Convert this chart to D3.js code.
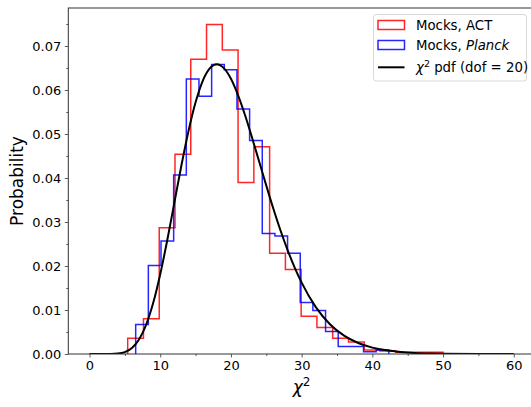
<!DOCTYPE html>
<html>
<head>
<meta charset="utf-8">
<script src="https://cdn.jsdelivr.net/npm/d3@7"></script>
<style>
  html, body { margin: 0; padding: 0; background: #fff; }
  svg { display: block; font-family: "DejaVu Sans", sans-serif; }
</style>
</head>
<body>
<svg id="chart" width="531" height="407"></svg>
<script>
// ---- Data ----
const actEdges = [5.40, 7.63, 9.86, 12.09, 14.32, 16.55, 18.78, 21.01, 23.24, 25.47, 27.70,
                  29.93, 32.16, 34.39, 36.62, 38.85, 41.08, 43.31, 45.54, 47.77, 50.00];
const actValues = [0.0036, 0.0080, 0.0287, 0.0454, 0.0670, 0.0749, 0.0691, 0.0390, 0.0471, 0.0229,
                   0.0192, 0.0086, 0.0060, 0.0036, 0.0027, 0.0009, 0.0007, 0.0004, 0.0004, 0.0004];
const planckEdges = [6.53, 8.32, 10.11, 11.90, 13.69, 15.48, 17.27, 19.06, 20.85, 22.64, 24.43,
                     26.22, 28.01, 29.80, 31.59, 33.38, 35.17, 36.96, 38.75, 40.54, 42.33];
const planckValues = [0.0067, 0.0201, 0.0257, 0.0407, 0.0625, 0.0586, 0.0658, 0.0646, 0.0557, 0.0485,
                      0.0274, 0.0268, 0.0229, 0.0117, 0.0099, 0.0051, 0.0017, 0.0017, 0.0005, 0.0009];
const pdfX = [0, 1, 2, 3, 4, 5, 6, 7, 8, 9, 10, 11, 12, 13, 14, 15, 16, 17, 18, 19, 20, 21, 22, 23, 24,
              25, 26, 27, 28, 29, 30, 32, 34, 36, 38, 40, 42, 44, 46, 48, 50, 55, 60];
const pdfY = [0, 0, 0.0000005, 0.000012, 0.000095, 0.00043, 0.00135, 0.00328, 0.00661, 0.01157,
              0.01813, 0.02592, 0.03440, 0.04290, 0.05070, 0.05720, 0.06204, 0.06490, 0.06587, 0.06497,
              0.06255, 0.05885, 0.05426, 0.04909, 0.04368, 0.03827, 0.03301, 0.02812, 0.02368, 0.01968,
              0.01621, 0.01065, 0.00676, 0.00416, 0.00249, 0.00145, 0.00083, 0.000464, 0.000254,
              0.000137, 0.000073, 0.000015, 0.000003];
const xTicks = [0, 10, 20, 30, 40, 50, 60];
const yTicks = [0, 0.01, 0.02, 0.03, 0.04, 0.05, 0.06, 0.07];
const legendLabels = ["Mocks, ACT", "Mocks, Planck", "χ² pdf (dof = 20)"];

// ---- Layout ----
const svg = d3.select("#chart");
const L = 68.3, R = 535, T = 8, B = 354;
const x = d3.scaleLinear().domain([-3, 63]).range([L, R]);
const y = d3.scaleLinear().domain([0, 346 / 4400]).range([B, T]);

const clip = svg.append("defs").append("clipPath").attr("id", "clip")
  .append("rect").attr("x", L).attr("y", T).attr("width", R - L).attr("height", B - T);

const plot = svg.append("g").attr("clip-path", "url(#clip)");

function stepPoints(edges, vals) {
  const pts = [[edges[0], 0]];
  vals.forEach((v, i) => { pts.push([edges[i], v]); pts.push([edges[i + 1], v]); });
  pts.push([edges[edges.length - 1], 0]);
  return pts;
}
const line = d3.line().x(d => x(d[0])).y(d => y(d[1]));

plot.append("path").attr("d", line(stepPoints(actEdges, actValues)))
  .attr("fill", "none").attr("stroke", "#ff0000").attr("stroke-opacity", 0.85)
  .attr("stroke-width", 1.5).attr("stroke-linejoin", "miter");
plot.append("path").attr("d", line(stepPoints(planckEdges, planckValues)))
  .attr("fill", "none").attr("stroke", "#0000ff").attr("stroke-opacity", 0.85)
  .attr("stroke-width", 1.5).attr("stroke-linejoin", "miter");

const pdfLine = d3.line().x(d => x(d[0])).y(d => y(d[1])).curve(d3.curveMonotoneX);
plot.append("path").attr("d", pdfLine(pdfX.map((v, i) => [v, pdfY[i]])))
  .attr("fill", "none").attr("stroke", "#000").attr("stroke-width", 2);

// ---- Axes ----
const xAxis = d3.axisBottom(x).tickValues(xTicks).tickSize(3.5).tickPadding(3.5).tickFormat(d3.format("d"));
const xMinor = d3.axisBottom(x).tickValues([5, 15, 25, 35, 45, 55]).tickSize(2).tickFormat("");
const yAxis = d3.axisLeft(y).tickValues(yTicks).tickSize(3.5).tickPadding(3.5).tickFormat(d3.format(".2f"));
const yMinor = d3.axisLeft(y).tickValues(d3.range(0.005, 0.08, 0.01)).tickSize(2).tickFormat("");

function style(g) {
  g.select(".domain").remove();
  g.selectAll("line").attr("stroke", "#333").attr("stroke-width", 0.8);
  g.selectAll("text").attr("fill", "#000").style("font-size", "13px").style("font-family", "DejaVu Sans");
}
svg.append("g").attr("transform", `translate(0,${B})`).call(xAxis).call(style);
svg.append("g").attr("transform", `translate(0,${B})`).call(xMinor).call(style);
svg.append("g").attr("transform", `translate(${L},0)`).call(yAxis).call(style);
svg.append("g").attr("transform", `translate(${L},0)`).call(yMinor).call(style);

// frame
svg.append("rect").attr("x", L).attr("y", T).attr("width", R - L).attr("height", B - T)
  .attr("fill", "none").attr("stroke", "#333").attr("stroke-width", 1);

// axis labels
const xl = svg.append("text").attr("x", x(30)).attr("y", 393).attr("text-anchor", "middle")
  .style("font-size", "17px").attr("fill", "#000");
xl.append("tspan").style("font-style", "italic").text("χ");
xl.append("tspan").attr("dy", -7).style("font-size", "12px").text("2");

svg.append("text").attr("transform", `translate(23,${(T + B) / 2}) rotate(-90)`)
  .attr("text-anchor", "middle").style("font-size", "17px").attr("fill", "#000").text("Probability");

// ---- Legend ----
const lg = svg.append("g");
lg.append("rect").attr("x", 373.5).attr("y", 14.5).attr("width", 153).attr("height", 66.5)
  .attr("rx", 2.5).attr("fill", "#fff").attr("fill-opacity", 0.8).attr("stroke", "#d9d9d9").attr("stroke-width", 1);
const rows = [25, 45, 67];
lg.append("rect").attr("x", 378).attr("y", 20.5).attr("width", 26.5).attr("height", 9)
  .attr("fill", "none").attr("stroke", "#ff0000").attr("stroke-opacity", 0.85).attr("stroke-width", 1.5);
lg.append("rect").attr("x", 378).attr("y", 40.5).attr("width", 26.5).attr("height", 9)
  .attr("fill", "none").attr("stroke", "#0000ff").attr("stroke-opacity", 0.85).attr("stroke-width", 1.5);
lg.append("line").attr("x1", 378).attr("x2", 404.5).attr("y1", 67.3).attr("y2", 67.3)
  .attr("stroke", "#000").attr("stroke-width", 2);

const t1 = lg.append("text").attr("x", 416).attr("y", rows[0] + 4.5).style("font-size", "13.3px").text(legendLabels[0]);
const t2 = lg.append("text").attr("x", 416).attr("y", rows[1] + 4.5).style("font-size", "13.3px");
t2.append("tspan").text("Mocks, ");
t2.append("tspan").style("font-style", "italic").text("Planck");
const t3 = lg.append("text").attr("x", 416).attr("y", rows[2] + 4.5).style("font-size", "13.3px");
t3.append("tspan").style("font-style", "italic").text("χ");
t3.append("tspan").attr("dy", -5).style("font-size", "9.5px").text("2");
t3.append("tspan").attr("dy", 5).text(" pdf (dof = 20)");
</script>
</body>
</html>
